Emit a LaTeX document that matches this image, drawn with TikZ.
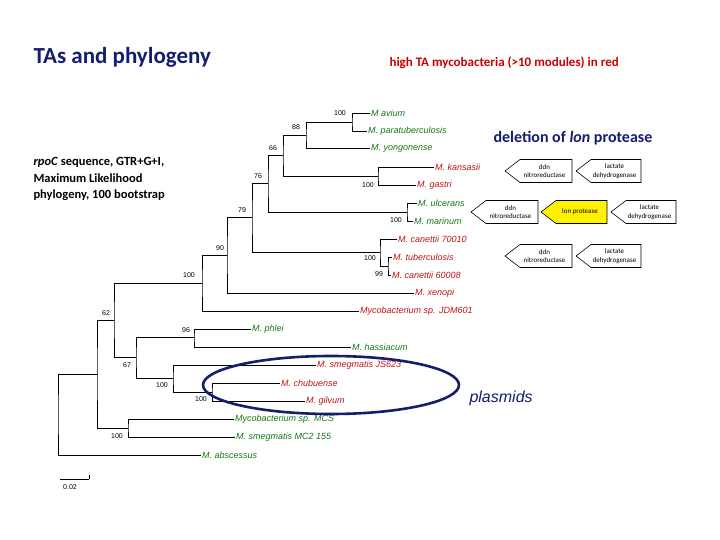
\documentclass[tikz,border=0pt]{standalone}
\usepackage{fontspec}
\usetikzlibrary{shapes.geometric}
\setmainfont{Carlito}
\newfontfamily\arialf{Liberation Sans}
\begin{document}
\begin{tikzpicture}[x=1pt,y=-1pt,
  sp/.style={anchor=west,inner sep=1pt,font=\arialf\itshape\fontsize{9}{10}\selectfont},
  gr/.style={sp,text={rgb,255:red,20;green,120;blue,20}},
  rd/.style={sp,text={rgb,255:red,190;green,20;blue,20}},
  bs/.style={inner sep=0pt,font=\arialf\fontsize{7}{8}\selectfont},
  br/.style={line width=0.7pt}]
\definecolor{navy}{RGB}{20,30,110}
\useasboundingbox (0,0) rectangle (720,540);
\node[anchor=west,text=navy,font=\bfseries\fontsize{23}{26}\selectfont] (title) at (30,57) {TAs and phylogeny};
\node[anchor=west,text={rgb,255:red,200;green,0;blue,0},font=\bfseries\fontsize{13}{16}\selectfont] (sub) at (386,63) {high TA mycobacteria (>10 modules) in red};
\node[anchor=west,text=navy,font=\bfseries\fontsize{16}{19}\selectfont] (del) at (490,138) {deletion of \textit{lon} protease};
\node[anchor=north west,align=left,font=\bfseries\fontsize{12.5}{16.5}\selectfont] (meth) at (30,154) {\textit{rpoC} sequence, GTR+G+I,\\Maximum Likelihood\\phylogeny, 100 bootstrap};
% leaves
\node[gr] (avium) at (370,113) {M avium};
\node[gr] (para) at (367,131) {M. paratuberculosis};
\node[gr] (yong) at (370,148) {M. yongonense};
\node[rd] (kans) at (434,167) {M. kansasii};
\node[rd] (gast) at (416,185) {M. gastri};
\node[gr] (ulc) at (417,203) {M. ulcerans};
\node[gr] (mar) at (413,221) {M. marinum};
\node[rd] (can1) at (397,239) {M. canettii 70010};
\node[rd] (tb) at (392,257) {M. tuberculosis};
\node[rd] (can2) at (391,275) {M. canettii 60008};
\node[rd] (xen) at (414,293) {M. xenopi};
\node[rd] (jdm) at (359,311) {Mycobacterium sp. JDM601};
\node[gr] (phl) at (251,329) {M. phlei};
\node[gr] (has) at (351,347) {M. hassiacum};
\node[rd] (js) at (316,365) {M. smegmatis JS623};
\node[rd] (chu) at (280,383) {M. chubuense};
\node[rd] (gil) at (305,401) {M. gilvum};
\node[gr] (mcs) at (234,419) {Mycobacterium sp. MCS};
\node[gr] (mc2) at (235,437) {M. smegmatis MC2 155};
\node[gr] (abs) at (201,455) {M. abscessus};
% internal nodes
\coordinate (n1) at (352,122);
\coordinate (n2) at (306,135);
\coordinate (nkg) at (378,176);
\coordinate (n3) at (283,155);
\coordinate (num) at (407,212);
\coordinate (n4) at (268,183);
\coordinate (ntb2) at (388,266);
\coordinate (ntb) at (380,252);
\coordinate (n5) at (252,217);
\coordinate (n6) at (227,255);
\coordinate (n7) at (202,283);
\coordinate (nph) at (194,337);
\coordinate (n11) at (212,392);
\coordinate (n10) at (173,378);
\coordinate (n9) at (136,357);
\coordinate (n8) at (114,320);
\coordinate (n13) at (128,428);
\coordinate (n12) at (97,374);
\coordinate (root) at (58,414);
\draw[br] (avium.west) -| (n1) |- (para.west);
\draw[br] (n1) -| (n2) |- (yong.west);
\draw[br] (kans.west) -| (nkg) |- (gast.west);
\draw[br] (n2) -| (n3) |- (nkg);
\draw[br] (ulc.west) -| (num) |- (mar.west);
\draw[br] (n3) -| (n4) |- (num);
\draw[br] (tb.west) -| (ntb2) |- (can2.west);
\draw[br] (can1.west) -| (ntb) |- (ntb2);
\draw[br] (n4) -| (n5) |- (ntb);
\draw[br] (n5) -| (n6) |- (xen.west);
\draw[br] (n6) -| (n7) |- (jdm.west);
\draw[br] (phl.west) -| (nph) |- (has.west);
\draw[br] (chu.west) -| (n11) |- (gil.west);
\draw[br] (js.west) -| (n10) |- (n11);
\draw[br] (nph) -| (n9) |- (n10);
\draw[br] (n7) -| (n8) |- (n9);
\draw[br] (mcs.west) -| (n13) |- (mc2.west);
\draw[br] (n8) -| (n12) |- (n13);
\draw[br] (n12) -| (root) |- (abs.west);
% bootstrap labels
\node[bs] (b1) at (340,113) {100};
\node[bs] (b2) at (296,127) {88};
\node[bs] (b3) at (273,148) {66};
\node[bs] (b4) at (368,185) {100};
\node[bs] (b5) at (258,176) {76};
\node[bs] (b6) at (396,220) {100};
\node[bs] (b7) at (242,210) {79};
\node[bs] (b8) at (370,258) {100};
\node[bs] (b9) at (379,274) {99};
\node[bs] (b10) at (220,248) {90};
\node[bs] (b11) at (189,275) {100};
\node[bs] (b12) at (106,313) {62};
\node[bs] (b13) at (186,330) {96};
\node[bs] (b14) at (127,365) {67};
\node[bs] (b15) at (162,385) {100};
\node[bs] (b16) at (201,399) {100};
\node[bs] (b17) at (117,436) {100};
% scale bar
\coordinate (s1) at (60,479);
\coordinate (s2) at (89,479);
\draw[br] (s1) -- (s2) ++(0,-4) -- ++(0,4);
\node[bs] (sc) at (70,487) {0.02};
% ellipse
\node[draw=navy,line width=2.6pt,ellipse,minimum width=256pt,minimum height=58pt,inner sep=0pt] (ell) at (331,385) {};
\node[anchor=west,text=navy,font=\arialf\itshape\fontsize{16}{18}\selectfont] (pl) at (466,398) {plasmids};
% gene arrows
\foreach \nm/\xa/\xb/\yc/\tx/\fl in {
 g1/505/572/171/{ddn\\nitroreductase}/white,
 g2/576/641/171/{lactate\\dehydrogenase}/white,
 g3/471/538/212/{ddn\\nitroreductase}/white,
 g4/541/607/212/{lon protease}/yellow,
 g5/611/676/212/{lactate\\dehydrogenase}/white,
 g6/505/572/256/{ddn\\nitroreductase}/white,
 g7/576/641/256/{lactate\\dehydrogenase}/white}{
 \draw[line width=0.6pt,fill=\fl] (\xa,\yc) -- (\xa+15,\yc-11.5) -- (\xb,\yc-11.5) -- (\xb,\yc+11.5) -- (\xa+15,\yc+11.5) -- cycle;
 \node[align=center,inner sep=0pt,font=\fontsize{7}{8.5}\selectfont] (\nm) at ({(\xa+\xb)/2+6},\yc) {\tx};
}
\end{tikzpicture}
\end{document}
